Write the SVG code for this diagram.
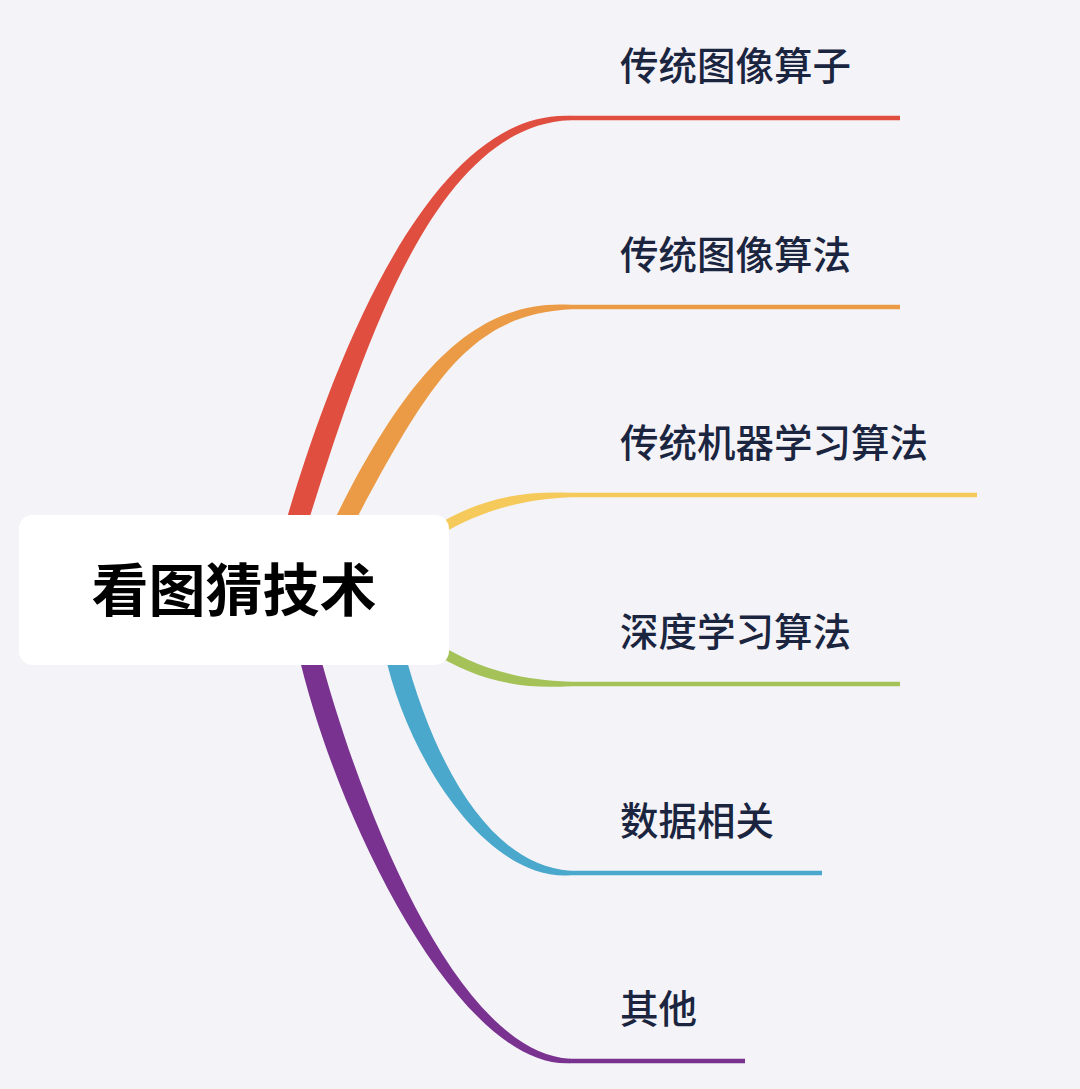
<svg xmlns="http://www.w3.org/2000/svg" width="1080" height="1089" viewBox="0 0 1080 1089">
<style>
.lbl{font-family:"Noto Sans CJK SC","Noto Sans",sans-serif;font-size:38.5px;fill:#1b2540;font-weight:500}
.ctr{font-family:"Noto Sans CJK SC","Noto Sans",sans-serif;font-size:57px;fill:#000;font-weight:700}
.ul{stroke-width:4.5;fill:none;stroke-linecap:butt}
</style>
<rect x="0" y="0" width="1080" height="1089" fill="#f4f4f8"/>
<g id="connectors">
<path d="M 282 535 C 332 360 430 110 570 115.75 L 570 120.25 C 430 126 360 360 304 535 Z" fill="#e04e3f"/>
<line class="ul" x1="569" y1="118" x2="900" y2="118" stroke="#e04e3f"/>
<path d="M 329.5 530 C 402 380 470 299 570 304.75 L 570 309.25 C 470 315 430 380 350.5 530 Z" fill="#eb9a45"/>
<line class="ul" x1="569" y1="307" x2="900" y2="307" stroke="#eb9a45"/>
<path d="M 430 529 C 470 504 510 490 570 492.75 L 570 497.25 C 510 500 470 516 430 541 Z" fill="#f5c95a"/>
<line class="ul" x1="569" y1="495" x2="977" y2="495" stroke="#f5c95a"/>
<path d="M 430 639 C 470 664 510 680 570 681.75 L 570 686.25 C 510 690 470 676 430 651 Z" fill="#a4c257"/>
<line class="ul" x1="569" y1="684" x2="900" y2="684" stroke="#a4c257"/>
<path d="M 384 650 C 407 760 488 881 570 875.25 L 570 870.75 C 488 865 433 760 404 650 Z" fill="#4aa8cc"/>
<line class="ul" x1="569" y1="873" x2="822" y2="873" stroke="#4aa8cc"/>
<path d="M 297.5 650 C 336 820 460 1069 570 1063.25 L 570 1058.75 C 460 1053 364 820 318.5 650 Z" fill="#7a3290"/>
<line class="ul" x1="569" y1="1061" x2="745" y2="1061" stroke="#7a3290"/>
</g>
<g id="root">
<rect x="19" y="515" width="430" height="150" rx="14" fill="#ffffff"/>
<text class="ctr" x="234" y="611" text-anchor="middle">看图猜技术</text>
</g>
<g id="n1"><text class="lbl" x="620" y="80">传统图像算子</text></g>
<g id="n2"><text class="lbl" x="620" y="269">传统图像算法</text></g>
<g id="n3"><text class="lbl" x="620" y="457">传统机器学习算法</text></g>
<g id="n4"><text class="lbl" x="620" y="646">深度学习算法</text></g>
<g id="n5"><text class="lbl" x="620" y="835">数据相关</text></g>
<g id="n6"><text class="lbl" x="620" y="1023">其他</text></g>
</svg>
